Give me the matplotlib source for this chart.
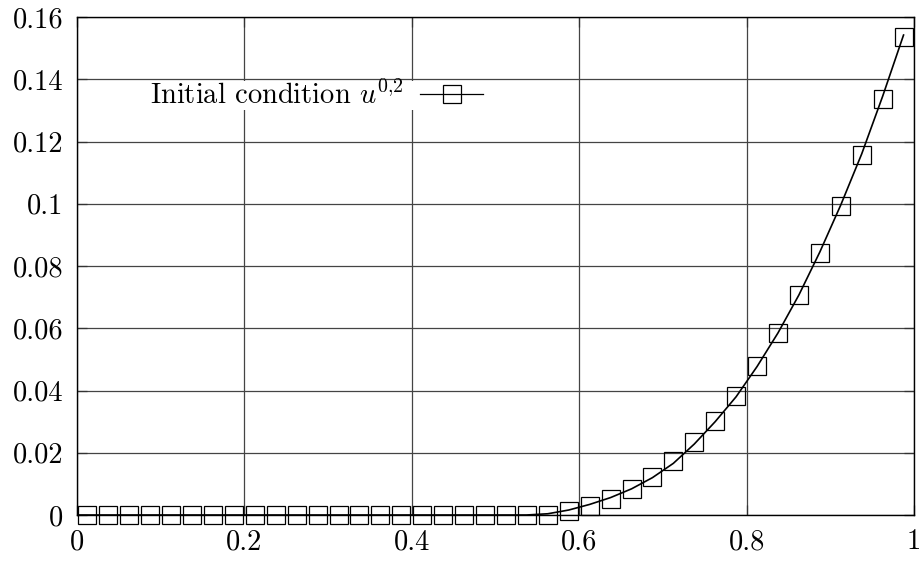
import matplotlib
matplotlib.use("Agg")
import matplotlib.pyplot as plt
import numpy as np

plt.rcParams['font.family'] = ['cmr10', 'DejaVu Serif']
plt.rcParams['mathtext.fontset'] = 'cm'
plt.rcParams['axes.formatter.use_mathtext'] = True

# cell centres and cell values of the initial condition
cell_x = [(k + 0.5) / 40 for k in range(40)]
cell_u = [0.0] * 22 + [0.0001, 0.0013, 0.0029, 0.0053, 0.0083, 0.0123, 0.0172,
                       0.0233, 0.0303, 0.0383, 0.0479, 0.0584, 0.0707, 0.0842,
                       0.0993, 0.1157, 0.1336, 0.1537]

# the continuous curve, sampled by eye
curve_x = [0.0, 0.537, 0.5625, 0.5875, 0.6125, 0.6375, 0.6625, 0.6875, 0.7125,
           0.7375, 0.7625, 0.7875, 0.8125, 0.8375, 0.8625, 0.8875, 0.9125,
           0.9375, 0.9625, 0.9875]
curve_u = [0.0, 0.0, 0.0004, 0.0016, 0.0034, 0.0056, 0.0084, 0.0120, 0.0166,
           0.0228, 0.0300, 0.0380, 0.0477, 0.0585, 0.0707, 0.0845, 0.0996,
           0.1160, 0.1345, 0.1542]

xticks = [0, 0.2, 0.4, 0.6, 0.8, 1.0]
xlabels = ['0', '0.2', '0.4', '0.6', '0.8', '1']
yticks = [0, 0.02, 0.04, 0.06, 0.08, 0.10, 0.12, 0.14, 0.16]
ylabels = ['0', '0.02', '0.04', '0.06', '0.08', '0.1', '0.12', '0.14', '0.16']

fs = 20.5

fig = plt.figure(figsize=(9.22, 5.61), dpi=100)
ax = fig.add_axes([77 / 922, 46 / 561, 837 / 922, 498 / 561])

line, = ax.plot(curve_x, curve_u, color='black', lw=1.2, zorder=3)
pts, = ax.plot(cell_x, cell_u, ls='none', marker='s', markersize=13.3,
               markerfacecolor='none', markeredgecolor='black',
               markeredgewidth=0.9, clip_on=False, zorder=4)

ax.set_xlim(0, 1)
ax.set_ylim(0, 0.16)
ax.set_xticks(xticks)
ax.set_xticklabels(xlabels)
ax.set_yticks(yticks)
ax.set_yticklabels(ylabels)
ax.tick_params(axis='both', direction='in', length=7, width=0.9,
               top=True, right=True, labelsize=fs, color='#333333')
ax.tick_params(axis='x', pad=10)
ax.tick_params(axis='y', pad=10)
ax.grid(True, color='#444444', lw=0.9)
ax.set_axisbelow(True)
for s in ax.spines.values():
    s.set_linewidth(1.0)
    s.set_zorder(5)

# legend sample: short line with one square in the middle
leg_line = plt.Line2D([], [], color='black', lw=0.9, marker='s',
                      markersize=13.3, markerfacecolor='none',
                      markeredgecolor='black', markeredgewidth=0.9)
leg = ax.legend([leg_line], [r'Initial condition $u^{0{,}2}$'],
                loc='center right', bbox_to_anchor=(483 / 922, 1 - 95.5 / 561),
                bbox_transform=fig.transFigure, markerfirst=False,
                handlelength=2.2, handletextpad=0.56, borderpad=0.0,
                borderaxespad=0, fontsize=fs, frameon=True, fancybox=False,
                framealpha=1, edgecolor='none', facecolor='white',
                numpoints=1)
leg.set_zorder(2)

fig.savefig('out.png', dpi=100)
